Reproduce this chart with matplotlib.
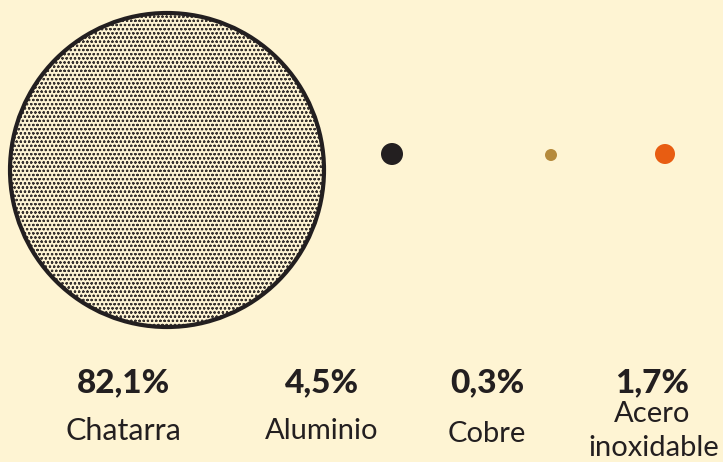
import matplotlib.pyplot as plt
from matplotlib.patches import Circle

# data
materials = ["Chatarra", "Aluminio", "Cobre", "Acero\ninoxidable"]
shares = [82.1, 4.5, 0.3, 1.7]
share_labels = ["82,1%", "4,5%", "0,3%", "1,7%"]

# look
bg = "#fef4d3"
ink = "#231f20"
dot_colors = [ink, ink, "#b58a3c", "#e85d12"]
radii = [157, 11, 6, 10]
centers = [(167, 170), (392, 154), (551, 155), (665, 154)]
text_x = [123, 322, 487, 652]

plt.rcParams["hatch.linewidth"] = 0.55
fig = plt.figure(figsize=(7.23, 4.62), dpi=100, facecolor=bg)
ax = fig.add_axes([0, 0, 1, 1])
ax.set_xlim(0, 723)
ax.set_ylim(462, 0)
ax.set_aspect("equal")
ax.axis("off")

for i, val in enumerate(shares):
    (cx, cy), r = centers[i], radii[i]
    if i == 0:
        ax.add_patch(Circle((cx, cy), r, facecolor=bg, edgecolor="#3a3431",
                            hatch="oooo", linewidth=0))
        ax.add_patch(Circle((cx, cy), r, facecolor="none", edgecolor=ink,
                            linewidth=3))
    else:
        ax.add_patch(Circle((cx, cy), r, facecolor=dot_colors[i], edgecolor="none"))

font = "Lato"
for i in range(len(materials)):
    ax.text(text_x[i], 383, share_labels[i], ha="center", va="center",
            fontsize=24, fontweight="black", family=font, color=ink)
    if "\n" in materials[i]:
        top, bottom = materials[i].split("\n")
        ax.text(text_x[i], 414, top, ha="center", va="center",
                fontsize=21, fontweight="normal", family=font, color=ink)
        ax.text(text_x[i] + 2, 448, bottom, ha="center", va="center",
                fontsize=21, fontweight="normal", family=font, color=ink)
    else:
        ax.text(text_x[i], 431 if i != 2 else 434, materials[i], ha="center",
                va="center", fontsize=22 if i == 0 else 21, fontweight="normal",
                family=font, color=ink)

fig.savefig("out.png", dpi=100, facecolor=bg)
